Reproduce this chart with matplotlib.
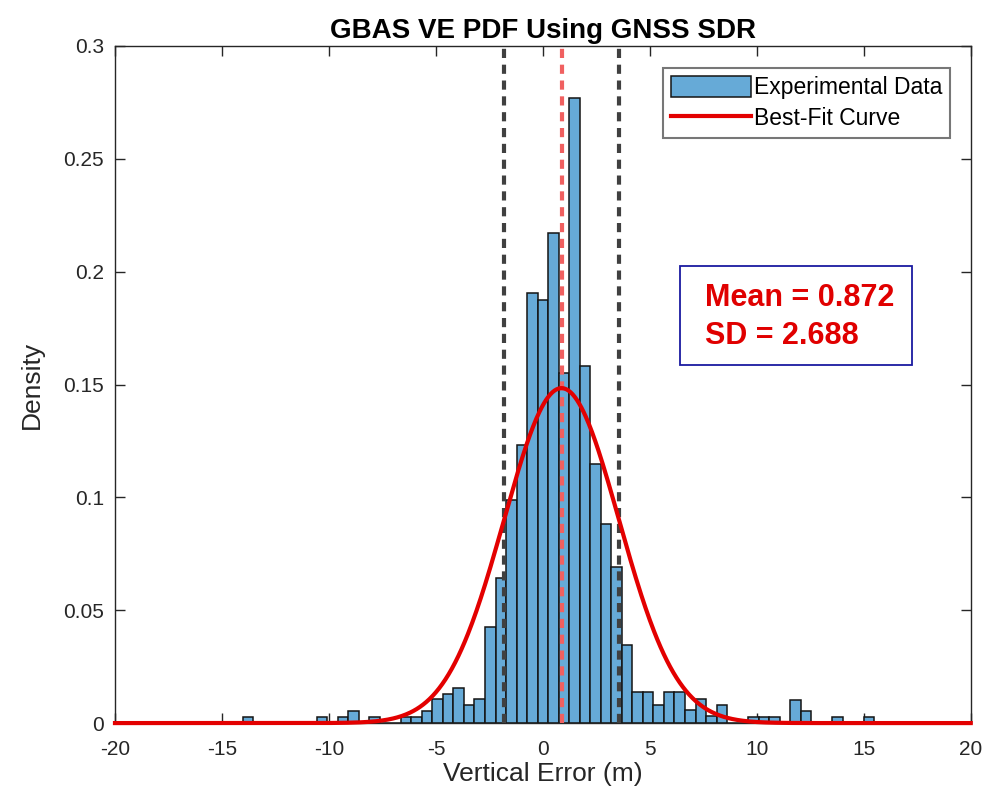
import numpy as np
import matplotlib
matplotlib.use('Agg')
import matplotlib.pyplot as plt
from matplotlib.patches import Rectangle

plt.rcParams['font.family'] = ['Liberation Sans', 'DejaVu Sans']

# 読み取ったヒストグラム (pdf 正規化)
bin_lo = -14.02
bin_width = 0.492
density = [
    0.0026, 0, 0, 0, 0, 0, 0, 0.0026, 0, 0.0026,
    0.0052, 0, 0.0026, 0, 0, 0.0026, 0.0026, 0.0052, 0.0105, 0.0130,
    0.0157, 0.0078, 0.0105, 0.0426, 0.0641, 0.0990, 0.1230, 0.1905, 0.1875, 0.2170,
    0.1550, 0.2770, 0.1580, 0.1150, 0.0880, 0.0690, 0.0348, 0.0136, 0.0136, 0.0081,
    0.0136, 0.0136, 0.0056, 0.0108, 0.0030, 0.0078, 0, 0, 0.0026, 0.0026,
    0.0026, 0, 0.0104, 0.0052, 0, 0, 0.0026, 0, 0, 0.0026,
]
mu = 0.872
sd = 2.688

xticks = [-20, -15, -10, -5, 0, 5, 10, 15, 20]
yticks = [0, 0.05, 0.1, 0.15, 0.2, 0.25, 0.3]
yticklabels = ['0', '0.05', '0.1', '0.15', '0.2', '0.25', '0.3']

edges = bin_lo + bin_width * np.arange(len(density) + 1)

fig = plt.figure(figsize=(9.87, 8.07), dpi=100)
ax = fig.add_axes([0.1165, 0.104, 0.867, 0.839])

bars = ax.bar(edges[:-1], density, width=bin_width, align='edge',
              color='#66AAD7', edgecolor='#141414', linewidth=1.1,
              label='Experimental Data', zorder=2)

# フィット曲線
xs = np.linspace(-20, 20, 801)
pdf = np.exp(-(xs - mu) ** 2 / (2 * sd ** 2)) / (sd * np.sqrt(2 * np.pi))
line, = ax.plot(xs, pdf, color='#E30000', linewidth=3.0, label='Best-Fit Curve',
                zorder=4, clip_on=False)

# 平均と ±1SD
for xv in [mu - sd, mu + sd]:
    ax.axvline(xv, color='#404040', linewidth=3, linestyle=(0, (2.2, 1.6)), zorder=3)
ax.axvline(mu, color='#F06060', linewidth=3, linestyle=(0, (2.2, 1.6)), zorder=3)

ax.set_xlim(-20, 20)
ax.set_ylim(0, 0.3)
ax.set_xticks(xticks)
ax.set_xticklabels([str(v) for v in xticks])
ax.set_yticks(yticks)
ax.set_yticklabels(yticklabels)
ax.tick_params(direction='in', length=7, width=1, top=True, right=True,
               labelsize=15, colors='#262626')
ax.tick_params(axis='x', pad=12)
ax.tick_params(axis='y', pad=8)
for s in ax.spines.values():
    s.set_color('#262626')
    s.set_linewidth(1.0)

ax.set_xlabel('Vertical Error (m)', fontsize=19, color='#262626', labelpad=2)
ax.set_ylabel('Density', fontsize=19, color='#262626', labelpad=14)
ax.set_title('GBAS VE PDF Using GNSS SDR', fontsize=20, fontweight='bold',
             color='black', pad=6)

leg = ax.legend([bars, line], ['Experimental Data', 'Best-Fit Curve'],
                loc='upper right', bbox_to_anchor=(0.976, 0.9675),
                fontsize=16.5, frameon=True, fancybox=False,
                handlelength=3.5, handleheight=1.0, handletextpad=0.1,
                borderpad=0.35, labelspacing=0.35, borderaxespad=0)
leg.get_frame().set_edgecolor('#555555')
leg.get_frame().set_linewidth(1.5)

# 統計値の注記
ax.add_patch(Rectangle((0.660, 0.529), 0.271, 0.146, transform=ax.transAxes,
                       facecolor='white', edgecolor='#1a1aa0', linewidth=1.3,
                       zorder=5))
ax.text(0.6895, 0.600, 'Mean = %.3f\nSD = %.3f' % (mu, sd), transform=ax.transAxes,
        ha='left', va='center', fontsize=22, fontweight='bold', color='#E00000',
        linespacing=1.35, zorder=6)

fig.savefig('out.png', dpi=100)
